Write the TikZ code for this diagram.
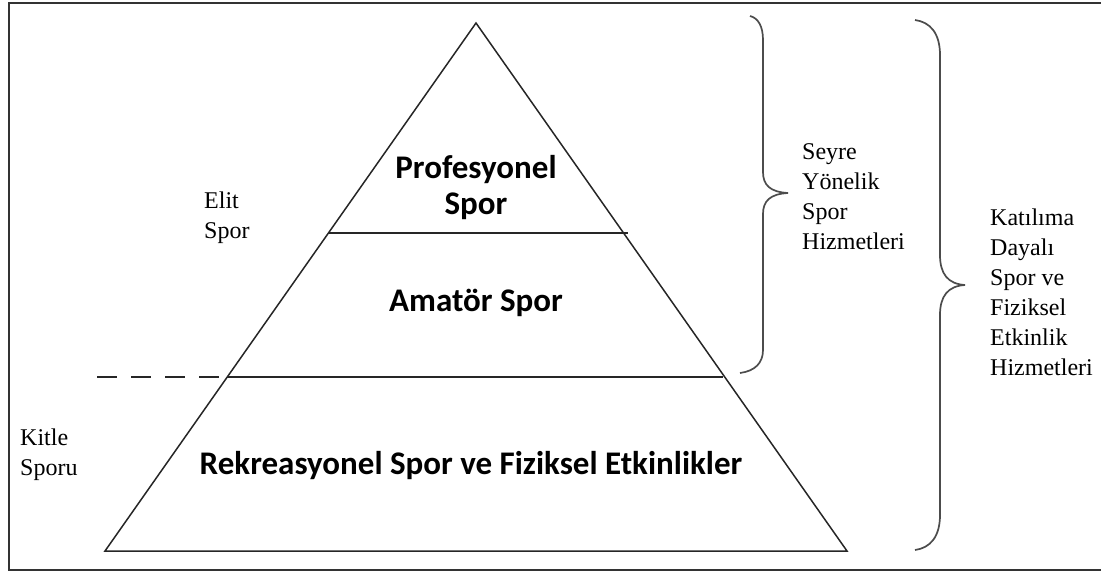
\documentclass[tikz,border=0pt]{standalone}
\usepackage{fontspec}
\setmainfont{Liberation Serif}
\newfontfamily\calfont{Carlito}
\begin{document}
\begin{tikzpicture}[x=1pt,y=-1pt,
  frame/.style={draw=black!80,line width=2pt},
  pyr/.style={draw=black!85,line width=1.5pt},
  brace/.style={draw=black!70,line width=1.7pt},
  lbl/.style={font=\fontsize{24}{30}\selectfont,align=left,anchor=west,inner sep=0pt},
  blbl/.style={font=\calfont\bfseries\fontsize{33}{36}\selectfont,align=center,inner sep=0pt}]
\useasboundingbox (0,0) rectangle (1101,573);
\clip (0,0) rectangle (1101,573);
\draw[frame] (9,3) rectangle (1110,570);
% pyramid
\coordinate (apex) at (476,23);
\coordinate (bl) at (105,551);
\coordinate (br) at (847,551);
\coordinate (u1) at (328,233);
\coordinate (u2) at (628,233);
\coordinate (m1) at (227,377);
\coordinate (m2) at (723,377);
\coordinate (d0) at (97,377);
\draw[pyr,line join=miter] (bl) -- (apex) -- (br) -- cycle;
\draw[pyr] (u1) -- (u2);
\draw[pyr] (m1) -- (m2);
\draw[pyr,dash pattern=on 20pt off 14pt] (d0) -- (m1);
% braces
\draw[brace] (750,16) .. controls (758,18) and (763,26) .. (763,40) -- (763,172)
  .. controls (763,185) and (770,192) .. (788,193)
  .. controls (770,194) and (763,201) .. (763,214) -- (763,350)
  .. controls (763,363) and (755,371) .. (740,373);
\draw[brace] (915,20) .. controls (930,22) and (940,33) .. (940,55) -- (940,255)
  .. controls (940,274) and (948,284) .. (965,285)
  .. controls (948,286) and (940,296) .. (940,315) -- (940,515)
  .. controls (940,537) and (930,548) .. (915,550);
% labels
\node[blbl] (prof) at (476,188) {Profesyonel\\Spor};
\node[blbl] (amat) at (476,303) {Amatör Spor};
\node[blbl] (rekr) at (471,466) {Rekreasyonel Spor ve Fiziksel Etkinlikler};
\node[lbl] (elit) at (204,218) {Elit\\Spor};
\node[lbl] (kitle) at (20,455) {Kitle\\Sporu};
\node[lbl] (seyre) at (802,197) {Seyre\\Yönelik\\Spor\\Hizmetleri};
\node[lbl] (katil) at (990,292) {Katılıma\\Dayalı\\Spor ve\\Fiziksel\\Etkinlik\\Hizmetleri};
\end{tikzpicture}
\end{document}
